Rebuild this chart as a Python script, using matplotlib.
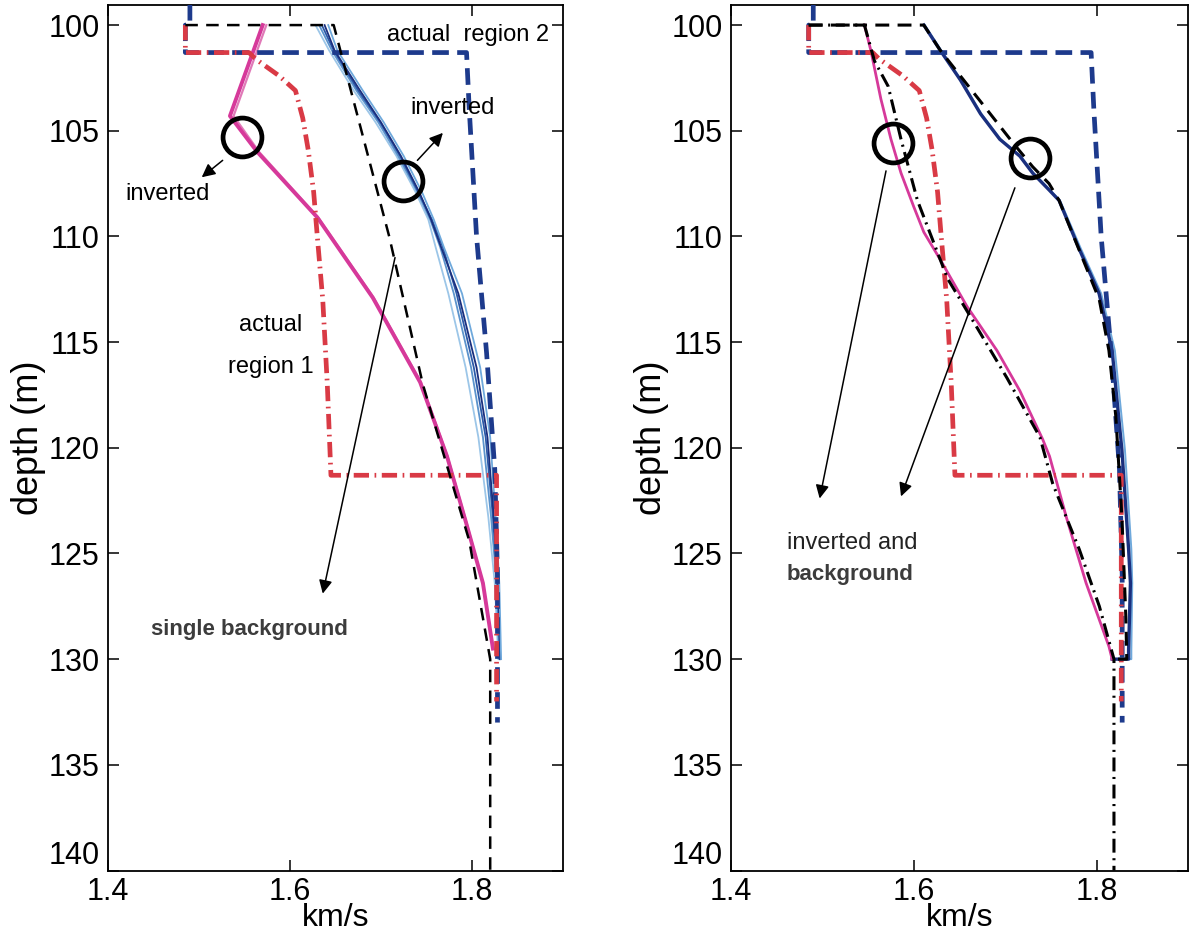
import matplotlib
matplotlib.use("Agg")
import matplotlib.pyplot as plt

plt.rcParams['font.family'] = ['Liberation Sans', 'DejaVu Sans']
plt.rcParams['lines.scale_dashes'] = False

# ---------------- data: left panel (single background) ----------------
act2_depth = [99.0, 100.0, 100.0, 101.3, 101.3, 104.0, 110.0, 115.5, 121.0, 126.0, 133.0]
act2_vel = [1.490, 1.490, 1.485, 1.485, 1.794, 1.797, 1.805, 1.816, 1.825, 1.828, 1.828]

act1_depth = [100.0, 101.3, 101.3, 101.6, 102.4, 103.1, 104.4, 105.9, 107.9, 110.0,
              113.0, 117.0, 121.3, 121.3, 132.0]
act1_vel = [1.485, 1.485, 1.555, 1.562, 1.588, 1.606, 1.614, 1.620, 1.626, 1.630,
            1.636, 1.641, 1.645, 1.827, 1.827]

bg_single_depth = [100.0, 100.0, 110.0, 117.0, 124.4, 130.0, 140.0]
bg_single_vel = [1.485, 1.648, 1.709, 1.746, 1.797, 1.820, 1.820]

inv1_left_depth = [100.0, 104.3, 106.0, 109.1, 112.9, 116.9, 120.4, 123.7, 126.4, 129.5]
inv1_left_a = [1.570, 1.534, 1.564, 1.630, 1.691, 1.743, 1.7725, 1.7945, 1.812, 1.823]
inv1_left_b = [1.574, 1.538, 1.566, 1.631, 1.692, 1.744, 1.773, 1.795, 1.812, 1.823]

inv2_left_depth = [100.0, 101.2, 103.1, 104.6, 106.2, 107.9, 109.2, 110.5, 112.7,
                   116.2, 119.5, 123.3, 126.4, 130.0]
inv2_left_runs = {
    '#9cc6e8': [1.628, 1.643, 1.670, 1.694, 1.717, 1.738, 1.752, 1.760, 1.774, 1.793, 1.807, 1.818, 1.825, 1.829],
    '#5b93cc': [1.632, 1.646, 1.673, 1.697, 1.719, 1.740, 1.754, 1.765, 1.780, 1.799, 1.812, 1.821, 1.827, 1.830],
    '#2c5aa8': [1.635, 1.648, 1.675, 1.699, 1.721, 1.741, 1.756, 1.768, 1.783, 1.802, 1.815, 1.823, 1.828, 1.831],
    '#1a2f7e': [1.638, 1.649, 1.677, 1.700, 1.722, 1.742, 1.755, 1.766, 1.785, 1.805, 1.817, 1.824, 1.829, 1.831],
    '#6fa9dc': [1.642, 1.652, 1.680, 1.703, 1.725, 1.745, 1.758, 1.769, 1.789, 1.809, 1.820, 1.826, 1.830, 1.832],
}

# ---------------- data: right panel (inverted and background) ----------------
bg1_depth = [100.0, 100.0, 101.7, 102.9, 105.4, 108.3, 112.0, 114.3, 116.7, 119.5,
             121.7, 124.8, 127.5, 130.0, 140.0]
bg1_vel = [1.485, 1.546, 1.557, 1.572, 1.586, 1.604, 1.637, 1.669, 1.702, 1.738,
           1.752, 1.781, 1.803, 1.819, 1.819]

bg2_depth = [100.0, 100.0, 101.2, 104.0, 105.6, 106.7, 107.5, 108.3, 113.0, 115.4,
             118.5, 123.3, 128.0, 130.0, 130.0]
bg2_vel = [1.485, 1.611, 1.629, 1.680, 1.709, 1.730, 1.748, 1.759, 1.803, 1.8135,
           1.821, 1.8277, 1.832, 1.833, 1.819]

inv1_right_depth = [100.0, 101.2, 103.5, 105.4, 107.0, 108.6, 109.8, 111.1, 113.3, 115.4,
                    117.3, 119.6, 120.4, 123.3, 126.4, 129.4, 130.0]
inv1_right_vel = [1.546, 1.553, 1.564, 1.575, 1.586, 1.600, 1.611, 1.629, 1.658, 1.691,
                  1.716, 1.741, 1.7485, 1.767, 1.7885, 1.8135, 1.817]

inv2_right_depth = [100.0, 101.2, 102.6, 104.2, 105.4, 106.2, 107.0, 107.8, 108.3, 110.6,
                    112.7, 115.4, 120.1, 124.8, 126.4, 129.6, 130.0, 130.0]
inv2_right_a = [1.611, 1.629, 1.651, 1.673, 1.694, 1.716, 1.730, 1.748, 1.759, 1.781,
                1.8027, 1.817, 1.8277, 1.835, 1.837, 1.835, 1.835, 1.817]
inv2_right_b = [1.612, 1.630, 1.652, 1.674, 1.695, 1.717, 1.731, 1.749, 1.760, 1.783,
                1.805, 1.820, 1.831, 1.838, 1.839, 1.838, 1.838, 1.817]

x_ticks = [1.4, 1.6, 1.8]
x_tick_labels = ['1.4', '1.6', '1.8']
y_ticks = [100, 105, 110, 115, 120, 125, 130, 135, 140]

# ---------------- styling ----------------
NAVY = '#1d3a8c'
RED = '#d93a45'
MAGENTA = '#d6399a'
NOTE_SIZE = 17

fig = plt.figure(figsize=(11.92, 9.4), dpi=100)
ax_l = fig.add_axes([108 / 1192, 69.5 / 940, 455 / 1192, 865.5 / 940])
ax_r = fig.add_axes([731 / 1192, 69.5 / 940, 457 / 1192, 865.5 / 940])


def style_axes(ax):
    ax.set_xlim(1.4, 1.9)
    ax.set_ylim(140, 99.05)
    ax.set_xticks(x_ticks)
    ax.set_xticklabels(x_tick_labels)
    ax.set_yticks(y_ticks)
    ax.tick_params(direction='in', length=8, width=1.1, top=True, right=True,
                   labelsize=22, pad=6)
    ax.tick_params(axis='x', pad=5)
    for s in ax.spines.values():
        s.set_linewidth(1.3)
    ax.set_xlabel('km/s', fontsize=23, labelpad=-3)
    ax.set_ylabel('depth (m)', fontsize=26, labelpad=2)
    # bottom depth label sits just above the corner, clear of the x labels
    ax.yaxis.get_major_ticks()[-1].label1.set_va('bottom')


def actual_profiles(ax):
    ax.plot(act2_vel, act2_depth, color=NAVY, lw=3.4, dashes=(12, 6),
            solid_capstyle='butt', zorder=3)
    ax.plot(act1_vel, act1_depth, color=RED, lw=3.4, dashes=(11, 4, 1.2, 4),
            zorder=3)


def circle(ax, x, y):
    ax.plot([x], [y], marker='o', ms=28, mfc='none', mec='black', mew=3.4,
            zorder=6)


def arrow(ax, start, end):
    ax.annotate('', xy=end, xytext=start,
                arrowprops=dict(arrowstyle='-|>', color='black', lw=1.1,
                                mutation_scale=20, shrinkA=0, shrinkB=0),
                zorder=6)


# ---------------- left panel ----------------
ax = ax_l
for col, vals in inv2_left_runs.items():
    ax.plot(vals, inv2_left_depth, color=col, lw=1.3, zorder=2)
ax.plot(inv1_left_b, inv1_left_depth, color='#e07ab8', lw=1.6, zorder=2)
ax.plot(inv1_left_a, inv1_left_depth, color=MAGENTA, lw=2.8, zorder=2)
actual_profiles(ax)
ax.plot(bg_single_vel, bg_single_depth, color='black', lw=1.8, dashes=(9, 6),
        zorder=4)

circle(ax, 1.547, 105.3)
circle(ax, 1.724, 107.4)
arrow(ax, (1.526, 106.4), (1.503, 107.2))
arrow(ax, (1.740, 106.4), (1.768, 105.1))
arrow(ax, (1.7154, 111.0), (1.636, 126.9))

ax.text(1.707, 100.47, 'actual  region 2', fontsize=NOTE_SIZE, ha='left', va='center')
ax.text(1.732, 103.9, 'inverted', fontsize=NOTE_SIZE, ha='left', va='center')
ax.text(1.419, 108.0, 'inverted', fontsize=NOTE_SIZE, ha='left', va='center')
ax.text(1.579, 114.2, 'actual', fontsize=NOTE_SIZE, ha='center', va='center')
ax.text(1.579, 116.2, 'region 1', fontsize=NOTE_SIZE, ha='center', va='center')
ax.text(1.555, 128.6, 'single background', fontsize=16, ha='center',
        va='center', color='#3c3c3c', fontweight='bold')
style_axes(ax)

# ---------------- right panel ----------------
ax = ax_r
ax.plot(inv2_right_b, inv2_right_depth, color='#6fa9dc', lw=1.4, zorder=2)
ax.plot(inv2_right_a, inv2_right_depth, color='#1a2f7e', lw=2.4, zorder=2)
ax.plot(inv1_right_vel, inv1_right_depth, color=MAGENTA, lw=2.0, zorder=2)
actual_profiles(ax)
ax.plot(bg2_vel, bg2_depth, color='black', lw=2.2, dashes=(10, 6), zorder=4)
ax.plot(bg1_vel, bg1_depth, color='black', lw=2.2, dashes=(10, 4, 1.5, 4),
        zorder=4)

circle(ax, 1.577, 105.6)
circle(ax, 1.727, 106.3)
arrow(ax, (1.5696, 106.9), (1.497, 122.4))
arrow(ax, (1.7106, 107.7), (1.586, 122.3))

ax.text(1.461, 124.5, 'inverted and', fontsize=NOTE_SIZE, ha='left', va='center',
        color='#222222')
ax.text(1.461, 126.0, 'background', fontsize=16, ha='left', va='center',
        color='#3c3c3c', fontweight='bold')
style_axes(ax)

fig.savefig('out.png', dpi=100)
